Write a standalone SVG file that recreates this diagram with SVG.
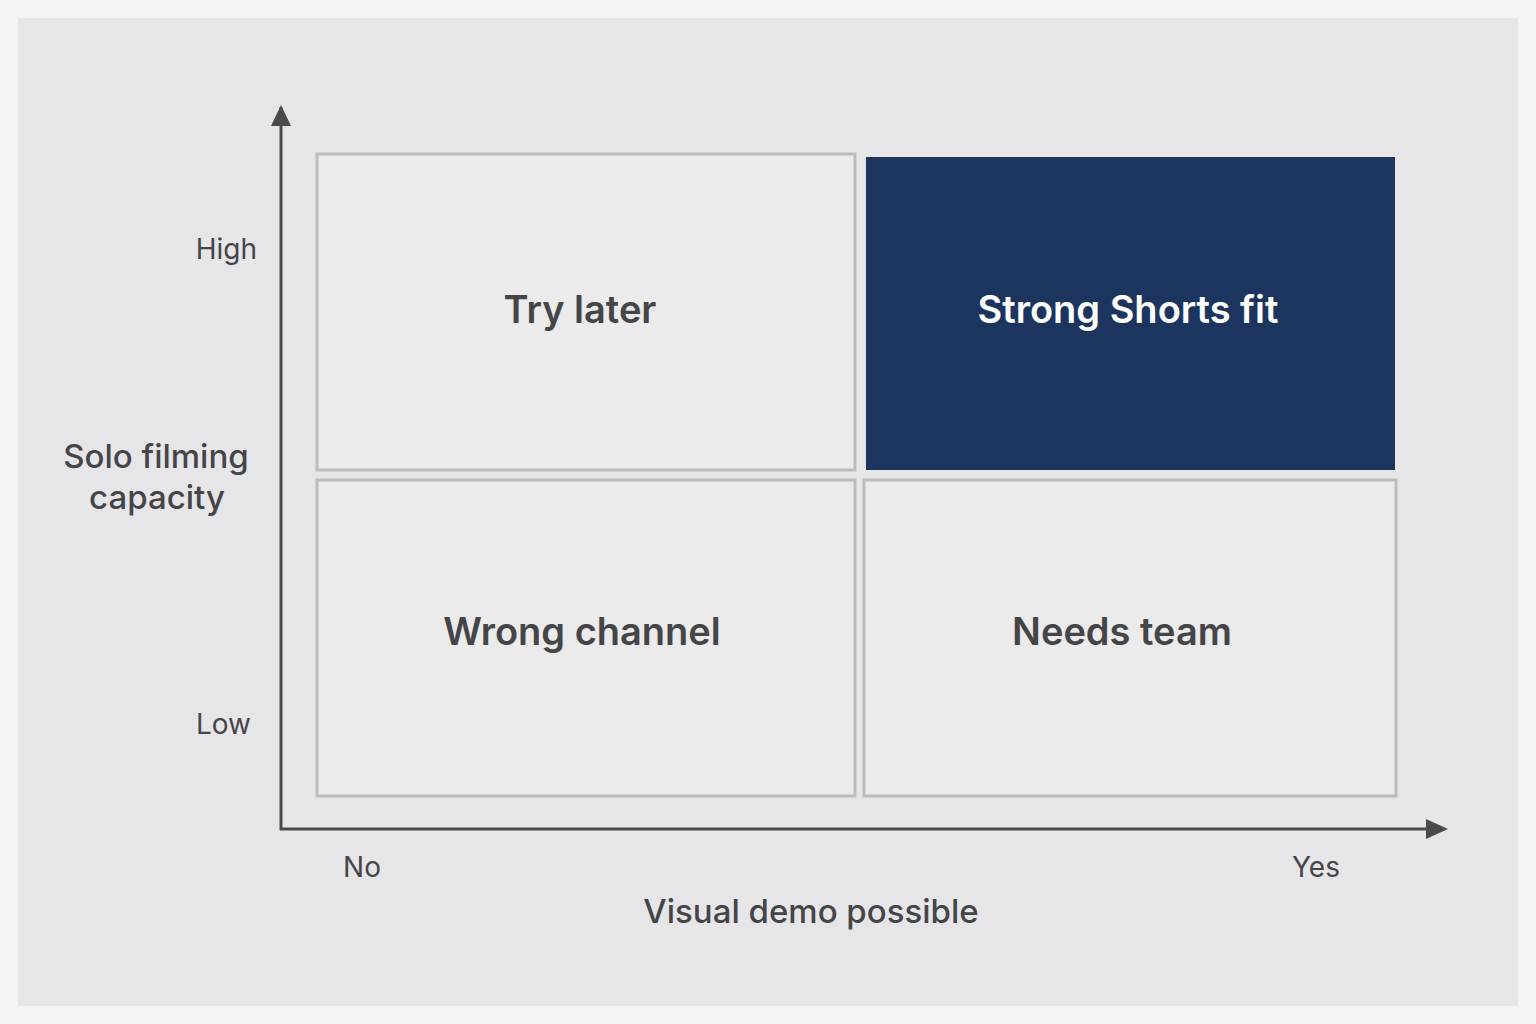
<svg xmlns="http://www.w3.org/2000/svg" width="1536" height="1024" viewBox="0 0 1536 1024">
<style>
text{font-family:Inter,"Liberation Sans",sans-serif;fill:#454548}
.q{fill:#ebebeb;stroke:#bcbcbc;stroke-width:3}
.ql{font-size:38px;font-weight:600;text-anchor:middle}
.ax{font-size:28px}
.tt{font-size:33px;font-weight:500;text-anchor:middle}
.axis{stroke:#4a4a4d;stroke-width:3;fill:none}
</style>
<defs><marker id="ah" markerWidth="10" markerHeight="10" refX="8" refY="5" orient="auto" markerUnits="userSpaceOnUse" viewBox="0 0 10 10"><path d="M0,0 L10,5 L0,10 z" fill="#4a4a4d"/></marker></defs>
<rect width="1536" height="1024" fill="#f4f4f4"/>
<rect x="18" y="18" width="1500" height="988" fill="#e6e6e8"/>
<g id="connectors">
<path class="axis" d="M281,830 V107"/>
<path d="M271,126 L281,105 L291,126 z" fill="#4a4a4d"/>
<path class="axis" d="M280,829 H1430"/>
<path d="M1426,819 L1448,829 L1426,839 z" fill="#4a4a4d"/>
</g>
<g id="try-later"><rect class="q" x="317" y="154" width="538" height="316"/><text class="ql" x="580" y="323">Try later</text></g>
<g id="strong-fit"><rect x="866" y="157" width="529" height="313" fill="#1c355e"/><text class="ql" x="1128" y="323" style="fill:#fff">Strong Shorts fit</text></g>
<g id="wrong-channel"><rect class="q" x="317" y="480" width="538" height="316"/><text class="ql" x="582" y="645">Wrong channel</text></g>
<g id="needs-team"><rect class="q" x="864" y="480" width="532" height="316"/><text class="ql" x="1122" y="645">Needs team</text></g>
<g id="labels">
<text class="ax" x="257" y="259" text-anchor="end">High</text>
<text class="ax" x="251" y="734" text-anchor="end">Low</text>
<text class="tt" x="156" y="468">Solo filming</text>
<text class="tt" x="157" y="509">capacity</text>
<text class="ax" x="362" y="877" text-anchor="middle">No</text>
<text class="ax" x="1316" y="877" text-anchor="middle">Yes</text>
<text class="tt" x="811" y="923">Visual demo possible</text>
</g>
</svg>
